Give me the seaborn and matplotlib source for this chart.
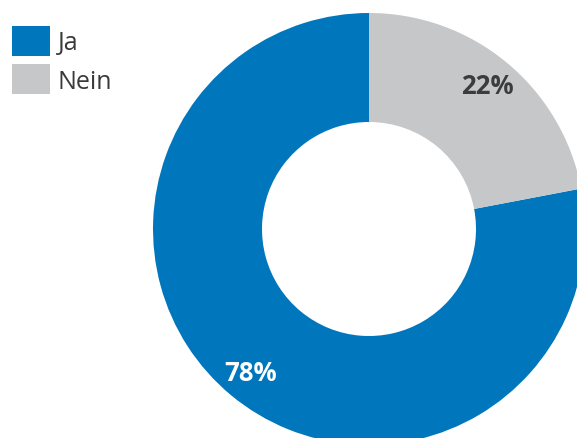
import matplotlib
matplotlib.use("Agg")
import matplotlib.pyplot as plt
import seaborn as sns
from matplotlib.patches import Patch

# Data
labels = ["Ja", "Nein"]
values = [78, 22]
colors = ["#0077BD", "#C6C7C9"]
pct_colors = ["white", "#3C3C3C"]

sns.set_theme(style="white")
plt.rcParams["font.family"] = ["Open Sans", "DejaVu Sans"]

fig = plt.figure(figsize=(5.77, 4.39), dpi=100)
ax = fig.add_axes([0, 0, 1, 1])

wedges, texts, autotexts = ax.pie(
    values,
    colors=colors,
    startangle=90,
    counterclock=True,
    center=(369, 209),
    radius=216,
    autopct="%d%%",
    pctdistance=0.86,
    wedgeprops=dict(width=109, linewidth=0),
    frame=True,
)
for t, c in zip(autotexts, pct_colors):
    t.set_color(c)
    t.set_fontsize(18.5)
    t.set_fontweight("bold")

ax.set_xlim(0, 577)
ax.set_ylim(0, 439)
ax.set_aspect("equal")
ax.axis("off")

handles = [Patch(facecolor=c, edgecolor="none") for c in colors]
leg = ax.legend(
    handles, labels,
    loc="upper left",
    bbox_to_anchor=(12 / 577, 1 - 27 / 439),
    bbox_transform=fig.transFigure,
    frameon=False,
    fontsize=18,
    borderpad=0,
    borderaxespad=0,
    handlelength=1.52,
    handleheight=1.45,
    handletextpad=0.3,
    labelspacing=0.35,
)
for t in leg.get_texts():
    t.set_color("#3A3A3A")

fig.savefig("out.png", dpi=100)
